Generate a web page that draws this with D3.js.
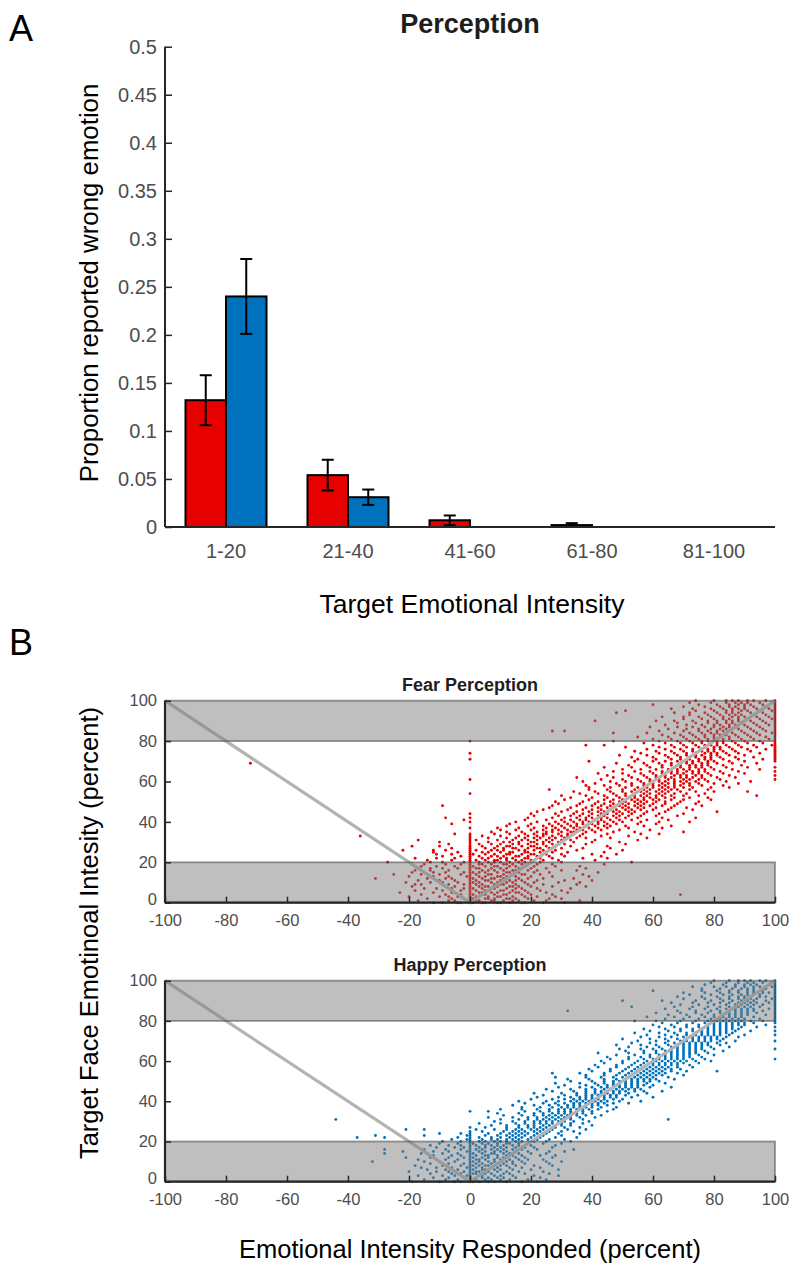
<!DOCTYPE html>
<html><head><meta charset="utf-8">
<script src="https://cdn.jsdelivr.net/npm/d3@7"></script>
<style>
html,body{margin:0;padding:0;background:#fff;}
svg{display:block;font-family:"Liberation Sans",Arial,Helvetica,sans-serif;}
</style></head>
<body><svg id="c" width="789" height="1265"></svg>
<script>
// ---------- Panel A data ----------
const categories = ["1-20","21-40","41-60","61-80","81-100"];
const seriesNames = ["Fear","Happy"];
const fearProp = [0.132, 0.054, 0.007, 0.002, 0.0];
const fearErr  = [0.026, 0.016, 0.005, 0.002, 0.0];
const happyProp = [0.240, 0.031, 0.0, 0.0, 0.0];
const happyErr  = [0.039, 0.008, 0.0, 0.0, 0.0];
const barYTicks = [0,0.05,0.1,0.15,0.2,0.25,0.3,0.35,0.4,0.45,0.5];
const barYLabels = ["0","0.05","0.1","0.15","0.2","0.25","0.3","0.35","0.4","0.45","0.5"];

// ---------- Panel B data: [target intensity, responded intensities] ----------
const scatterXTicks = [-100,-80,-60,-40,-20,0,20,40,60,80,100];
const scatterYTicks = [0,20,40,60,80,100];
const bandRanges = [[0,20],[80,100]];
const idealLine = [[-100,100],[0,0],[100,100]];

const fearRows = [
[0,[-12,-9,-4,-3,0,1,4,5,9,10,13,17,18,24,31]],
[1,[-17,-7,-5,0,2,3,7,8,11,14,16,21,25,36]],
[2,[-14,-6,-2,0,1,5,6,8,12,13,15,19,26,30]],
[3,[-20,-10,-7,-4,0,2,3,6,9,10,14,18,22,28]],
[4,[-16,-8,-3,0,1,4,5,8,11,12,17,20,27,69]],
[5,[-23,-12,-6,-5,0,3,4,7,9,13,15,16,19,25,32]],
[6,[-18,-9,-3,0,2,5,6,10,11,14,18,23,30]],
[7,[-15,-11,-6,-2,0,1,4,7,8,12,15,17,22,33]],
[8,[-19,-8,-5,0,3,5,6,9,13,14,16,20,27,38]],
[9,[-18,-16,-7,-2,0,2,4,8,10,11,15,19,24,35]],
[10,[-21,-13,-9,-4,0,1,3,7,9,12,14,18,21,29,36]],
[11,[-17,-10,-5,0,2,5,6,10,13,15,17,22,31,40]],
[12,[-31,-14,-8,-6,0,1,4,7,8,11,16,19,24,34]],
[13,[-20,-12,-7,-1,0,3,5,9,10,12,15,20,27,39]],
[14,[-25,-16,-10,-3,0,2,6,7,11,14,17,18,23,37]],
[15,[-19,-12,-8,-2,0,1,3,5,9,12,13,16,21,26,42]],
[16,[-18,-13,-7,0,4,6,8,11,14,15,19,22,30,35]],
[17,[-13,-9,-4,0,2,3,7,10,12,16,17,20,25,38]],
[18,[-16,-11,-5,0,1,5,8,9,13,15,18,21,28,36]],
[19,[-15,-8,-3,0,3,4,7,11,12,14,17,22,27,44]],
[20,[-27,-13,-9,-2,0,3,6,8,10,13,16,18,23,30,53]],
[21,[-14,-6,0,2,5,8,9,12,15,17,20,24,29,41]],
[22,[-18,-11,-5,0,4,6,10,12,14,18,19,23,27,37,45]],
[23,[-9,-3,0,3,7,9,11,15,16,19,22,26,31,43]],
[24,[-11,-6,0,1,5,8,12,13,17,20,21,25,30,40,48]],
[25,[-12,-4,0,4,6,10,13,14,18,19,23,27,32,44]],
[26,[-22,-12,-8,0,2,7,9,11,16,18,21,24,28,35,50]],
[27,[-6,0,5,8,11,14,15,19,22,23,26,30,37,46]],
[28,[-19,-10,0,4,9,12,13,17,20,21,25,28,33,45]],
[29,[-7,0,3,7,10,14,16,19,22,24,27,31,38,51]],
[30,[-10,0,6,11,13,16,20,21,24,26,29,34,40,49]],
[31,[-17,0,2,9,14,17,19,22,25,27,30,33,41,55]],
[32,[0,6,12,15,18,21,23,26,28,31,35,38,46,58]],
[33,[-36,0,4,10,16,19,22,24,27,30,32,36,43,52]],
[34,[-5,0,8,13,18,21,24,25,29,32,34,37,45,56,62]],
[35,[7,12,17,22,25,27,30,33,34,38,41,47,54,70]],
[36,[10,15,20,24,27,29,32,35,37,40,43,49,59]],
[37,[0,9,16,21,25,28,31,34,36,39,42,45,52,63]],
[38,[12,19,24,27,30,33,35,38,41,44,46,51,57,66]],
[39,[-6,13,20,26,29,32,35,37,40,42,45,48,55,61]],
[40,[0,15,22,28,31,34,37,39,42,44,47,50,56,62,72]],
[41,[-2,18,25,30,33,36,38,41,43,46,49,53,58,65]],
[42,[-8,0,19,27,31,35,38,40,43,45,48,51,55,63,74]],
[43,[21,29,33,36,39,42,44,47,49,52,56,61,68]],
[44,[0,20,28,34,37,40,43,45,48,50,53,57,62,70]],
[45,[22,30,35,39,42,44,47,49,52,54,58,64,81]],
[46,[24,32,37,40,43,46,48,51,53,56,60,65,73]],
[47,[26,33,38,42,45,47,50,52,55,57,61,66,71]],
[48,[-9,27,35,40,43,46,49,51,54,56,59,63,67,76]],
[49,[29,36,41,44,47,50,52,55,57,60,64,68,74]],
[50,[28,37,42,46,49,51,54,56,58,61,64,69,75]],
[51,[31,39,44,47,50,53,55,57,60,62,66,70,79]],
[52,[33,40,45,49,52,54,57,59,61,64,67,72,78]],
[53,[30,38,44,48,51,54,56,58,61,63,66,70,75,94]],
[54,[0,36,42,47,51,54,57,59,62,64,67,71,77]],
[55,[34,41,46,50,53,56,58,61,63,65,69,74,80,91]],
[56,[26,39,45,50,54,57,59,62,64,66,68,72,78]],
[57,[39,46,51,55,58,60,63,65,67,70,73,79,85]],
[58,[38,44,49,53,57,60,62,64,67,69,72,76,83]],
[59,[41,48,53,57,60,63,65,67,70,72,75,80,88]],
[60,[37,46,51,56,59,62,64,67,69,71,74,78,84,92]],
[61,[0,43,50,55,59,62,65,67,70,72,75,77,82,100]],
[62,[35,47,53,58,61,64,66,69,71,73,76,81,87]],
[63,[45,52,57,61,64,67,69,71,74,76,79,85,100]],
[64,[42,50,56,60,63,66,68,70,73,75,78,83,90]],
[65,[47,54,59,63,66,68,71,73,75,77,82,88,100]],
[66,[50,56,61,65,68,70,72,75,77,80,86,95]],
[67,[44,53,59,63,67,69,72,74,76,79,84,91,100]],
[68,[52,58,63,66,69,72,74,76,78,83,89]],
[69,[-72,48,57,62,66,69,71,73,76,78,81,86,94]],
[70,[39,54,60,64,68,71,73,75,78,80,85,90,100]],
[71,[0,55,61,66,69,72,75,77,79,83,88,96,100]],
[72,[53,60,65,69,72,74,77,79,82,87,93,100]],
[73,[49,58,64,68,71,74,76,79,81,85,90,100]],
[74,[0,56,62,67,71,74,77,79,81,84,88,95,100]],
[75,[54,61,66,70,73,76,78,80,83,87,92,100]],
[76,[58,64,69,73,76,78,80,82,86,91,97,100]],
[77,[51,62,67,71,75,77,80,82,85,89,94,100]],
[78,[38,44,60,66,70,74,77,79,81,84,88,93,99,100]],
[79,[57,64,69,73,76,79,81,83,87,91,96,100]],
[80,[0,47,62,68,72,76,78,81,83,86,90,95,100]],
[81,[60,66,71,75,78,80,83,85,89,93,98,100]],
[82,[55,65,70,74,77,80,82,85,88,92,97,100]],
[83,[63,69,73,77,80,82,84,87,91,95,100]],
[84,[47,58,67,72,76,79,81,84,86,90,94,99,100]],
[85,[27,31,62,70,75,78,81,83,85,89,93,97,100]],
[86,[65,71,75,79,82,84,86,88,92,96,100]],
[87,[59,68,73,77,80,83,85,87,91,95,100]],
[88,[64,71,76,80,82,85,87,90,94,98,100]],
[89,[68,74,78,81,84,86,89,93,97,100]],
[90,[41,61,67,73,78,81,84,86,88,92,96,100]],
[91,[70,76,80,83,85,88,91,95,99,100]],
[92,[63,70,75,79,83,86,88,90,94,98,100]],
[93,[72,78,82,85,87,89,93,97,100]],
[94,[48,67,72,77,81,84,86,88,92,96,100]],
[95,[51,74,80,84,86,89,91,95,99,100]],
[96,[66,73,79,83,86,88,90,94,98,100]],
[97,[70,77,82,85,87,90,93,97,100]],
[98,[60,75,81,85,88,90,92,96,100]],
[99,[72,79,84,87,89,91,95,99,100]],
[100,[74,80,84,86,88,91,93,97,100]]
];

const happyRows = [
[0,[-19,-10,-5,-3,0,1,3,6,8,12,17,22]],
[1,[-15,-8,-4,0,1,2,5,7,10,13,19,25]],
[2,[-12,-7,-2,0,2,4,6,9,11,15,23]],
[3,[-17,-9,-5,-1,0,3,4,8,10,14,21,29]],
[4,[-13,-6,-3,0,1,2,5,7,11,13,18,26]],
[5,[-20,-11,-7,-2,0,2,3,6,9,12,16,24]],
[6,[-14,-8,-4,0,1,4,5,8,10,14,20,29]],
[7,[-16,-11,-6,-1,0,2,4,7,9,13,17,23]],
[8,[-18,-9,-3,0,1,3,5,6,10,12,15,21,27]],
[9,[-13,-7,-2,0,2,4,7,9,11,14,18,26]],
[10,[-32,-15,-10,-5,0,1,3,6,8,12,14,17,25,30]],
[11,[-17,-8,-4,0,2,3,5,8,10,13,16,19,24]],
[12,[-21,-13,-7,-2,0,1,4,6,9,11,15,18,27]],
[13,[-12,-6,-3,0,2,5,6,9,12,14,17,23,28]],
[14,[-28,-16,-9,-4,0,1,4,7,8,11,13,16,20,25]],
[15,[-22,-12,-7,-1,0,3,5,8,10,12,15,19,26,31]],
[16,[-28,-15,-8,-3,0,2,4,7,9,11,14,17,22,34]],
[17,[-11,-5,-2,0,3,5,8,10,12,15,18,21,27]],
[18,[-13,-7,-3,0,2,5,7,9,11,14,16,20,28]],
[19,[-10,-4,0,1,4,6,9,12,13,16,19,24,30]],
[20,[-9,-3,0,3,5,8,10,12,15,17,21,25,33]],
[21,[-6,-1,0,4,7,9,12,14,16,19,22,26,31]],
[22,[-37,-28,-4,0,3,7,10,13,15,17,20,23,28,35]],
[23,[-31,-15,-1,0,5,9,12,14,16,18,21,24,30]],
[24,[-10,-3,0,6,10,13,15,17,19,22,25,29,36]],
[25,[0,4,11,14,16,18,21,23,26,30,34]],
[26,[-21,-15,2,8,12,15,17,20,22,24,27,32,38]],
[27,[0,5,12,16,19,21,23,25,28,31,36]],
[28,[7,12,16,19,21,24,26,28,30,33,40]],
[29,[3,10,15,18,21,23,25,27,30,33,37]],
[30,[8,14,18,21,23,25,27,29,31,34,39]],
[31,[-44,10,16,19,22,24,26,28,30,33,37,65]],
[32,[6,14,19,22,25,27,29,31,33,36,41]],
[33,[11,17,21,24,26,28,30,32,35,38,43]],
[34,[9,16,21,24,27,29,31,33,35,37,40]],
[35,[0,6,18,23,26,29,31,33,35,37,40,45]],
[36,[10,17,22,26,29,31,33,35,37,39,42,47]],
[37,[17,23,27,30,32,34,36,38,40,43,48]],
[38,[14,21,26,29,32,34,36,38,40,42,45]],
[39,[18,24,28,31,34,36,38,40,42,44,47,52]],
[40,[16,25,29,33,35,37,39,41,43,45,49,56]],
[41,[20,27,31,34,36,38,40,42,44,47,50]],
[42,[22,29,33,36,38,40,42,44,46,48,53,60]],
[43,[24,31,35,38,40,42,44,46,48,51,55]],
[44,[21,30,35,38,41,43,45,47,49,52,58]],
[45,[27,34,38,41,43,45,47,49,51,54,57,63]],
[46,[25,33,38,41,44,46,48,50,52,54,56]],
[47,[29,36,40,43,45,47,49,51,53,55,59,66]],
[48,[31,38,42,45,47,49,51,53,55,57,60]],
[49,[28,36,41,44,47,49,51,53,55,58,64]],
[50,[33,40,44,47,49,51,53,55,57,59,62]],
[51,[32,39,44,48,51,53,55,57,59,61,67]],
[52,[28,38,43,47,50,52,54,56,58,60,65]],
[53,[38,44,48,51,53,55,57,59,61,63,70]],
[54,[27,36,44,49,52,54,56,58,60,62,64,68]],
[55,[40,46,50,53,55,57,59,61,63,66,71,81]],
[56,[39,46,51,54,56,58,60,62,64,66,69]],
[57,[42,48,52,55,57,59,61,63,65,68,73]],
[58,[41,48,53,56,58,60,62,64,66,68,72]],
[59,[44,50,54,57,60,62,64,66,68,70,75]],
[60,[43,50,55,58,61,63,65,67,69,71,74,79]],
[61,[46,52,57,60,62,64,66,68,70,73,77,100]],
[62,[45,52,56,59,62,64,66,68,70,72,76]],
[63,[48,54,59,62,64,66,68,70,72,75,80]],
[64,[42,52,57,61,64,66,68,70,72,74,78]],
[65,[51,57,61,64,66,68,70,72,74,77,83]],
[66,[49,56,60,63,66,68,70,72,74,76,80,100]],
[67,[52,58,62,66,68,70,72,74,76,79,85]],
[68,[48,56,61,65,68,70,72,74,76,78,82]],
[69,[53,59,64,67,70,72,74,76,78,81,84]],
[70,[55,61,65,69,71,73,75,77,79,82,87,100]],
[71,[50,59,64,68,71,73,75,77,79,81,83]],
[72,[56,62,66,70,73,75,77,79,81,84,88]],
[73,[58,64,68,71,74,76,78,80,82,85,90,100]],
[74,[54,62,67,71,74,76,78,80,82,84,86]],
[75,[59,65,69,73,76,78,80,82,84,87,92,100]],
[76,[57,64,69,73,76,78,80,82,84,86,88]],
[77,[62,67,71,75,78,80,82,84,86,89,94,100]],
[78,[60,66,71,75,78,80,82,84,86,88,90,97]],
[79,[63,68,73,77,80,82,84,86,88,90,93,100]],
[80,[54,61,69,74,78,81,83,85,87,89,92,96,100]],
[81,[64,70,75,79,82,84,86,88,90,95,100]],
[82,[58,67,72,77,80,83,85,87,89,93,100]],
[83,[65,71,76,80,83,85,87,89,91,97,100]],
[84,[61,69,74,78,82,85,87,89,91,94,100]],
[85,[32,68,74,79,82,85,87,89,91,93,96,100]],
[86,[64,72,77,81,84,87,89,91,93,98,100]],
[87,[53,67,73,78,82,85,88,90,92,95,100]],
[88,[69,75,80,84,87,89,91,93,96,100]],
[89,[66,73,78,82,85,88,90,92,94,98,100]],
[90,[50,63,74,79,83,86,89,91,93,97,100]],
[91,[70,77,82,85,88,90,92,94,99,100]],
[92,[68,76,81,85,88,90,92,95,97,100]],
[93,[72,79,83,86,89,91,93,95,100]],
[94,[70,77,82,85,88,91,93,96,98,100]],
[95,[60,76,81,85,88,91,93,96,100]],
[96,[76,82,86,89,91,93,97,100]],
[97,[73,80,84,87,90,93,95,99,100]],
[98,[77,83,87,90,92,94,98,100]],
[99,[79,84,88,91,93,96,100]],
[100,[80,85,88,90,92,95,97,100]]
];

// ---------- drawing ----------
const svg = d3.select("#c");
svg.append("rect").attr("width",789).attr("height",1265).attr("fill","#fff");
const AXC = "#262626", TICKC = "#4d4d4d";
const RED = "#e60000", BLUE = "#0072bd";
const FONT = "Liberation Sans, Arial, sans-serif";

// Panel letters
svg.append("text").attr("x",9).attr("y",41).attr("font-size",36).attr("fill","#000").text("A");
svg.append("text").attr("x",9).attr("y",655).attr("font-size",36).attr("fill","#000").text("B");

// ===== Panel A =====
const ax = d3.scaleBand().domain(categories).range([165,775]).paddingInner(0.336).paddingOuter(0.168);
const sub = d3.scaleBand().domain(seriesNames).range([0, ax.bandwidth()]);
const ay = d3.scaleLinear().domain([0,0.5]).range([527,46.7]);

const barData = categories.flatMap((c,i)=>[
  {cat:c, s:"Fear", v:fearProp[i], e:fearErr[i], col:RED},
  {cat:c, s:"Happy", v:happyProp[i], e:happyErr[i], col:BLUE}
]);
const gA = svg.append("g");
gA.selectAll("rect.bar").data(barData).join("rect")
  .attr("x",d=>ax(d.cat)+sub(d.s))
  .attr("width",sub.bandwidth())
  .attr("y",d=>ay(d.v))
  .attr("height",d=>ay(0)-ay(d.v))
  .attr("fill",d=>d.col).attr("stroke","#000").attr("stroke-width",2);
const errData = barData.filter(d=>d.e>0);
const eg = gA.selectAll("g.err").data(errData).join("g")
  .attr("transform",d=>`translate(${ax(d.cat)+sub(d.s)+sub.bandwidth()/2},0)`);
eg.append("line").attr("x1",0).attr("x2",0).attr("y1",d=>ay(d.v+d.e)).attr("y2",d=>ay(Math.max(0,d.v-d.e))).attr("stroke","#000").attr("stroke-width",2);
eg.append("line").attr("x1",-6).attr("x2",6).attr("y1",d=>ay(d.v+d.e)).attr("y2",d=>ay(d.v+d.e)).attr("stroke","#000").attr("stroke-width",2);
eg.append("line").attr("x1",-6).attr("x2",6).attr("y1",d=>ay(Math.max(0,d.v-d.e))).attr("y2",d=>ay(Math.max(0,d.v-d.e))).attr("stroke","#000").attr("stroke-width",2);

const yAxA = gA.append("g").attr("transform","translate(165,0)")
  .call(d3.axisLeft(ay).tickValues(barYTicks).tickFormat((d,i)=>barYLabels[i]).tickSize(-7).tickPadding(8));
const xAxA = gA.append("g").attr("transform","translate(0,527)")
  .call(d3.axisBottom(ax).tickSize(0).tickPadding(17));
[yAxA,xAxA].forEach(g=>{
  g.select(".domain").attr("stroke",AXC).attr("stroke-width",2);
  g.selectAll(".tick line").attr("stroke",AXC).attr("stroke-width",1.5);
  g.selectAll(".tick text").attr("fill",TICKC).attr("font-size",20).attr("font-family",FONT);
});
xAxA.select(".domain").attr("d","M165,0H775");
yAxA.select(".domain").attr("d","M0,527V46.7");

svg.append("text").attr("x",470).attr("y",33).attr("text-anchor","middle").attr("font-size",27).attr("font-weight","bold").attr("fill","#1e1e1e").text("Perception");
svg.append("text").attr("x",472).attr("y",613).attr("text-anchor","middle").attr("font-size",26.5).attr("fill","#000").text("Target Emotional Intensity");
svg.append("text").attr("transform","translate(98,283) rotate(-90)").attr("text-anchor","middle").attr("font-size",25.8).attr("fill","#000").text("Proportion reported wrong emotion");

// ===== Panel B =====
const sx = d3.scaleLinear().domain([-100,100]).range([165,775]);
function scatterPanel(rows, top, bottom, color, title){
  const sy = d3.scaleLinear().domain([0,100]).range([bottom, top]);
  const g = svg.append("g");
  const pts = rows.flatMap(([t,xs])=>xs.map(x=>[x,t]));
  g.selectAll("circle").data(pts).join("circle")
    .attr("cx",d=>sx(d[0])).attr("cy",d=>sy(d[1])).attr("r",1.45).attr("fill",color);
  g.append("path").datum(idealLine)
    .attr("d",d3.line().x(d=>sx(d[0])).y(d=>sy(d[1])))
    .attr("fill","none").attr("stroke","#b3b3b3").attr("stroke-width",3.2);
  g.selectAll("rect.band").data(bandRanges).join("rect")
    .attr("x",sx(-100)).attr("width",sx(100)-sx(-100))
    .attr("y",d=>sy(d[1])).attr("height",d=>sy(d[0])-sy(d[1]))
    .attr("fill","rgba(128,128,128,0.5)")
    .attr("stroke","rgba(70,70,70,0.55)").attr("stroke-width",1.8);
  const yA = g.append("g").attr("transform",`translate(165,0)`)
    .call(d3.axisLeft(sy).tickValues(scatterYTicks).tickFormat(d=>String(d)).tickSize(-6).tickPadding(8));
  const xA = g.append("g").attr("transform",`translate(0,${bottom})`)
    .call(d3.axisBottom(sx).tickValues(scatterXTicks).tickFormat(d=>String(d)).tickSize(-6).tickPadding(12));
  [yA,xA].forEach(a=>{
    a.select(".domain").attr("stroke",AXC).attr("stroke-width",2.2);
    a.selectAll(".tick line").attr("stroke",AXC).attr("stroke-width",1.5);
    a.selectAll(".tick text").attr("fill",TICKC).attr("font-size",16.5).attr("font-family",FONT);
  });
  // lift the "0" label slightly so it clears the x tick labels
  yA.selectAll(".tick text").filter(d=>d===0).attr("dy","0.1em");
  xA.select(".domain").attr("d","M165,0H775");
  yA.select(".domain").attr("d",`M0,${bottom}V${top}`);
  svg.append("text").attr("x",470).attr("y",top-10).attr("text-anchor","middle").attr("font-size",18).attr("font-weight","bold").attr("fill","#1e1e1e").text(title);
}
scatterPanel(fearRows, 700.7, 902.7, RED, "Fear Perception");
scatterPanel(happyRows, 980.7, 1181.7, BLUE, "Happy Perception");

svg.append("text").attr("x",470).attr("y",1258).attr("text-anchor","middle").attr("font-size",25.5).attr("fill","#000").text("Emotional Intensity Responded (percent)");
svg.append("text").attr("transform","translate(98,933) rotate(-90)").attr("text-anchor","middle").attr("font-size",25.5).attr("fill","#000").text("Target Face Emotinoal Intesity (percent)");
</script>
</body></html>
